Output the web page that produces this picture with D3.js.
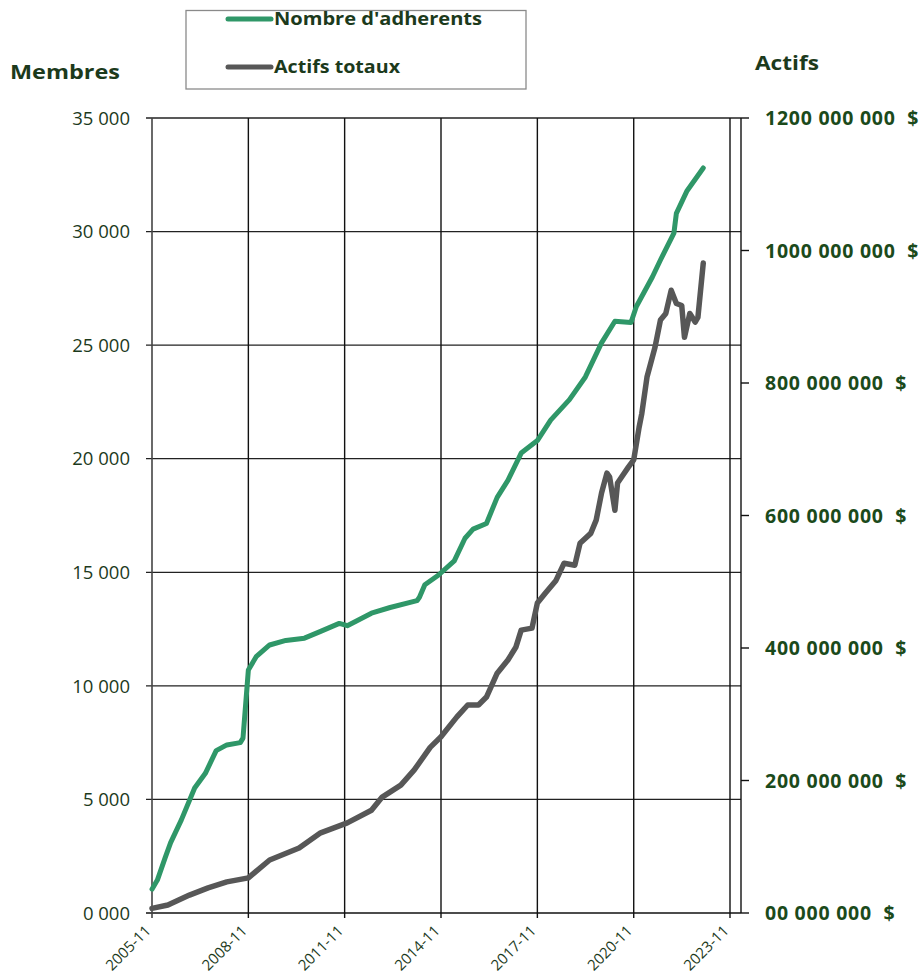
<!DOCTYPE html>
<html><head><meta charset="utf-8">
<script src="https://cdn.jsdelivr.net/npm/d3@7"></script>
<style>
html,body{margin:0;padding:0;background:#fff;}
svg{display:block;}
</style></head>
<body>
<svg id="chart" width="923" height="978"></svg>
<script>
// ---- data ----
const memberDates = ["2005-11","2006-01","2006-04","2006-06","2006-10","2007-03","2007-07","2007-11","2008-03","2008-08","2008-09","2008-11","2009-02","2009-07","2010-01","2010-08","2011-02","2011-09","2011-12","2012-09","2013-04","2014-02","2014-03","2014-05","2014-10","2015-04","2015-08","2015-11","2016-04","2016-08","2016-12","2017-05","2017-11","2018-04","2018-11","2019-05","2019-11","2020-04","2020-10","2020-12","2021-06","2021-09","2022-02","2022-03","2022-07","2023-01"];
const memberValues = [1050,1450,2450,3100,4100,5500,6150,7150,7400,7500,7700,10700,11300,11800,12000,12100,12400,12750,12650,13200,13450,13750,13900,14450,14870,15500,16500,16900,17150,18300,19050,20250,20800,21700,22600,23600,25100,26050,26000,26700,28000,28750,29930,30800,31800,32800];
const assetDates = ["2005-11","2006-05","2007-01","2007-08","2008-03","2008-11","2009-07","2010-06","2011-02","2011-12","2012-09","2013-01","2013-08","2014-01","2014-07","2014-11","2015-05","2015-09","2016-01","2016-04","2016-08","2016-12","2017-03","2017-05","2017-09","2017-11","2018-02","2018-06","2018-09","2019-01","2019-03","2019-07","2019-09","2019-11","2020-01","2020-02","2020-04","2020-05","2020-09","2020-11","2021-01","2021-02","2021-04","2021-07","2021-09","2021-11","2022-01","2022-03","2022-05","2022-06","2022-08","2022-10","2022-11","2023-01"];
const assetValuesM = [7,12,27,38,47,53,80,98,121,136,155,175,193,216,250,266,296,314,314,326,362,382,401,427,430,468,483,502,528,525,558,573,593,634,664,658,608,649,673,684,733,754,809,854,895,905,940,920,917,869,905,892,899,981];
const xTickLabels = ["2005-11","2008-11","2011-11","2014-11","2017-11","2020-11","2023-11"];
const leftTicks = [0,5000,10000,15000,20000,25000,30000,35000];
const leftTickLabels = ["0 000","5 000","10 000","15 000","20 000","25 000","30 000","35 000"];
const rightTicks = [0,200e6,400e6,600e6,800e6,1000e6,1200e6];
const rightTickLabels = ["00 000 000  $","200 000 000  $","400 000 000  $","600 000 000  $","800 000 000  $","1000 000 000  $","1200 000 000  $"];
const seriesNames = ["Nombre d'adherents","Actifs totaux"];
const axisTitles = ["Membres","Actifs"];

// ---- layout ----
const GREEN = "#2f9768", GREY = "#575757", TXT = "#1c3a1c", TXTR = "#1b4a1b";
const parse = d3.timeParse("%Y-%m");
const L = 152, R = 730, RA = 741, T = 118, B = 913;
const x = d3.scaleTime().domain([parse(xTickLabels[0]), parse(xTickLabels[xTickLabels.length-1])]).range([L, R]);
const yL = d3.scaleLinear().domain([0,35000]).range([B, T]);
const yR = d3.scaleLinear().domain([0,1200e6]).range([B, T]);
const svg = d3.select("#chart");
const font = "'Open Sans', 'Liberation Sans', sans-serif";

// horizontal grid
svg.append("g").selectAll("line").data(leftTicks).join("line")
  .attr("x1", L-6).attr("x2", RA).attr("y1", d=>yL(d)).attr("y2", d=>yL(d))
  .attr("stroke", d=> d===0 ? "#111" : "#222").attr("stroke-width", d=> d===0?1.6:1.3);
// vertical grid
svg.append("g").selectAll("line").data(xTickLabels.map(parse)).join("line")
  .attr("x1", d=>x(d)).attr("x2", d=>x(d)).attr("y1", T).attr("y2", B+5)
  .attr("stroke", (d,i)=> i===0 ? "#444" : "#111").attr("stroke-width", (d,i)=> i===0?1.6:1.4);
// right axis
svg.append("line").attr("x1", RA).attr("x2", RA).attr("y1", T).attr("y2", B).attr("stroke","#111").attr("stroke-width",1.4);
svg.append("g").selectAll("line").data(rightTicks).join("line")
  .attr("x1", RA).attr("x2", RA+8).attr("y1", d=>yR(d)).attr("y2", d=>yR(d)).attr("stroke","#111").attr("stroke-width",1.4);

// left labels
svg.append("g").selectAll("text").data(leftTicks).join("text")
  .attr("x", 130).attr("y", d=>yL(d)).attr("dy","0.36em").attr("text-anchor","end")
  .attr("font-family", font).attr("font-size", 18.5).attr("fill", TXT)
  .text((d,i)=>leftTickLabels[i]);
// right labels
svg.append("g").selectAll("text").data(rightTicks).join("text")
  .attr("x", 765).attr("y", d=>yR(d)).attr("dy","0.36em").attr("text-anchor","start")
  .attr("font-family", font).attr("font-size", 19.5).attr("font-weight","bold").attr("fill", TXTR)
  .attr("letter-spacing", 0.75)
  .attr("xml:space","preserve").style("white-space","pre")
  .text((d,i)=>rightTickLabels[i]);
// x labels
svg.append("g").selectAll("text").data(xTickLabels).join("text")
  .attr("transform", d=>`translate(${x(parse(d))-4},${B+15}) rotate(-45)`)
  .attr("text-anchor","end").attr("dy","0.35em")
  .attr("font-family", font).attr("font-size", 15).attr("fill", TXT)
  .text(d=>d);

// axis titles
svg.append("text").attr("x", 10).attr("y", 79).attr("font-family", font).attr("font-size", 20)
  .attr("font-weight","bold").attr("fill", TXT)
  .attr("textLength", 110).attr("lengthAdjust","spacingAndGlyphs").text(axisTitles[0]);
svg.append("text").attr("x", 755).attr("y", 70).attr("font-family", font).attr("font-size", 20)
  .attr("font-weight","bold").attr("fill", TXT)
  .attr("textLength", 64).attr("lengthAdjust","spacingAndGlyphs").text(axisTitles[1]);

// lines
const lineM = d3.line().x((d,i)=>x(parse(memberDates[i]))).y(d=>yL(d)).curve(d3.curveLinear);
const lineA = d3.line().x((d,i)=>x(parse(assetDates[i]))).y(d=>yR(d*1e6)).curve(d3.curveLinear);
svg.append("path").attr("d", lineA(assetValuesM)).attr("fill","none").attr("stroke",GREY)
  .attr("stroke-width",5.5).attr("stroke-linejoin","round").attr("stroke-linecap","round");
svg.append("path").attr("d", lineM(memberValues)).attr("fill","none").attr("stroke",GREEN)
  .attr("stroke-width",5).attr("stroke-linejoin","round").attr("stroke-linecap","round");

// legend
const lg = svg.append("g");
lg.append("rect").attr("x",186).attr("y",10.5).attr("width",340).attr("height",78.5)
  .attr("fill","#fff").attr("stroke","#8a8a8a").attr("stroke-width",1.3);
const legY = [19, 67], legC = [GREEN, GREY], legW = [208, 126];
seriesNames.forEach((n,i)=>{
  lg.append("line").attr("x1",228).attr("x2",271).attr("y1",legY[i]).attr("y2",legY[i])
    .attr("stroke",legC[i]).attr("stroke-width",5).attr("stroke-linecap","round");
  lg.append("text").attr("x",274).attr("y",legY[i]).attr("dy","0.36em")
    .attr("font-family",font).attr("font-size",18).attr("font-weight","bold").attr("fill",TXT)
    .attr("textLength", legW[i]).attr("lengthAdjust","spacingAndGlyphs").text(n);
});
</script>
</body></html>
